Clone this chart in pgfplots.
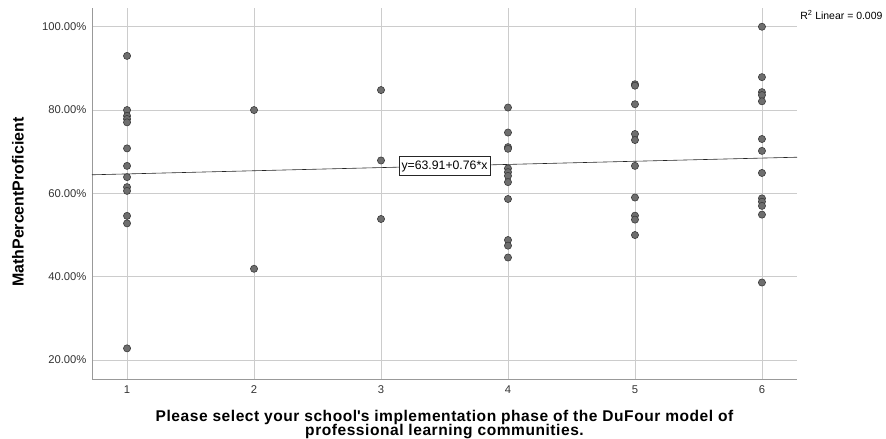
\documentclass[border=0pt]{standalone}
\usepackage{fontspec}
\setmainfont{Liberation Sans}
\usepackage{pgfplots}
\pgfplotsset{compat=1.18}
\definecolor{gridc}{HTML}{CCCCCC}
\definecolor{axc}{HTML}{999999}
\definecolor{mfill}{HTML}{6E6E6E}
\definecolor{mdraw}{HTML}{3A3A3A}
\begin{document}
\begin{tikzpicture}
\path[use as bounding box] (0,0) rectangle (886bp,439bp);
\begin{axis}[
  at={(92bp,59.7bp)}, anchor=south west,
  scale only axis, width=705bp, height=371.3bp,
  xmin=0.724, xmax=6.276, ymin=15.37, ymax=104.5,
  axis x line*=bottom, axis y line*=left,
  axis line style={axc, line width=0.8pt, -},
  xtick={1,2,3,4,5,6},
  ytick={20,40,60,80,100},
  yticklabels={20.00\%,40.00\%,60.00\%,80.00\%,100.00\%},
  /pgf/number format/assume math mode=true,
  major tick length=0pt,
  grid=major, grid style={gridc, line width=0.8pt},
  ticklabel style={font=\fontsize{11.3}{12}\selectfont, text=black!80},
  xticklabel style={yshift=-3bp},
  yticklabel style={xshift=-2bp},
  xlabel={Please select your school\textquotesingle s implementation phase of the DuFour model of\\[-1.5bp]professional learning communities.},
  xlabel style={at={(axis description cs:0.5,0)}, anchor=north, yshift=-27bp, align=center,
    font=\fontsize{15.6}{14.5}\selectfont\bfseries\addfontfeatures{LetterSpace=3.5}},
  ylabel={MathPercentProficient},
  ylabel style={at={(axis description cs:-0.105,0.477)}, anchor=center,
    font=\fontsize{16}{16}\selectfont\bfseries},
  clip=false,
]
\addplot[black!85, line width=0.6pt] coordinates {(0.724,64.46) (6.276,68.68)};
\addplot[only marks, mark=*, mark size=3.6pt,
  mark options={fill=mfill, draw=mdraw, line width=0.6pt}] coordinates {
(1,93.0) (1,80.0) (1,78.6) (1,77.85) (1,77.05) (1,70.8) (1,66.6) (1,63.9) (1,61.5) (1,60.6) (1,54.6) (1,52.8) (1,22.8)
(2,80.0) (2,41.9)
(3,84.8) (3,67.9) (3,53.85)
(4,80.6) (4,74.6) (4,71.1) (4,70.7) (4,66.0) (4,65.1) (4,64.2) (4,62.7) (4,58.65) (4,48.8) (4,47.45) (4,44.6)
(5,86.2) (5,85.85) (5,81.4) (5,74.25) (5,72.8) (5,66.6) (5,59.0) (5,54.65) (5,53.7) (5,50.0)
(6,100.0) (6,87.9) (6,84.3) (6,83.6) (6,82.1) (6,73.05) (6,70.2) (6,64.9) (6,58.8) (6,58.0) (6,57.0) (6,54.9) (6,38.6)
};
\node[draw=black!85, fill=white, line width=0.6pt, inner sep=2.5bp, minimum height=19bp,
  font=\fontsize{12.3}{13}\selectfont] at (axis cs:3.5,66.57) {y=63.91+0.76*x};
\node[anchor=west, inner sep=0pt, font=\fontsize{10.5}{11}\selectfont] at (axis cs:6.30,102.8) {R\textsuperscript{2} Linear = 0.009};
\end{axis}
\end{tikzpicture}
\end{document}
